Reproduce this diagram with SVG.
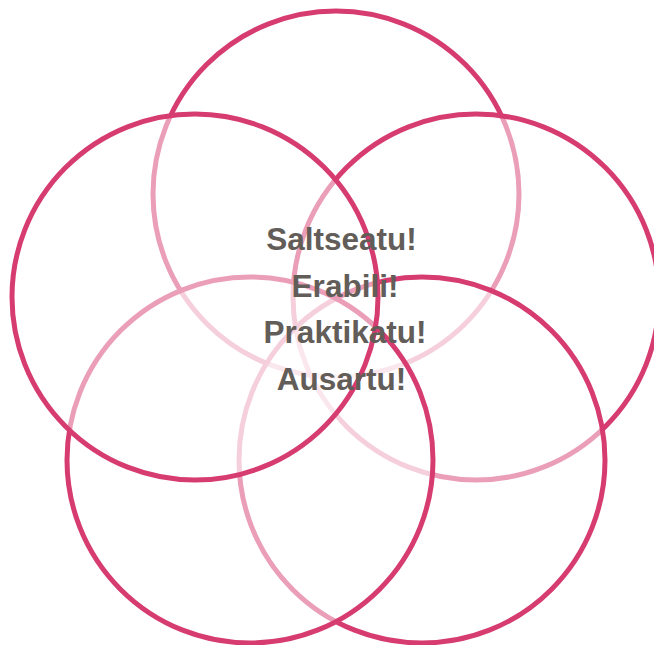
<svg xmlns="http://www.w3.org/2000/svg" width="654" height="645" viewBox="0 0 654 645">
  <style>
    .c { fill: #ffffff; fill-opacity: 0.5; stroke: #d63c6f; stroke-width: 5; }
    .t { font-family: "Liberation Sans", Arial, sans-serif; font-weight: bold; font-size: 31.5px; fill: #625d58; text-anchor: middle; }
  </style>
  <rect width="654" height="645" fill="#ffffff"/>
  <g id="circle-top"><circle class="c" cx="336" cy="194" r="183"/></g>
  <g id="circle-right"><circle class="c" cx="476" cy="297" r="183"/></g>
  <g id="circle-bottom-right"><circle class="c" cx="422" cy="460" r="183"/></g>
  <g id="circle-bottom-left"><circle class="c" cx="250" cy="460" r="183"/></g>
  <g id="circle-left"><circle class="c" cx="195" cy="297" r="183"/></g>
  <g id="label">
    <text class="t" x="341.5" y="250">Saltseatu!</text>
    <text class="t" x="345" y="296.5">Erabili!</text>
    <text class="t" x="345" y="343">Praktikatu!</text>
    <text class="t" x="341.5" y="389.5">Ausartu!</text>
  </g>
</svg>
